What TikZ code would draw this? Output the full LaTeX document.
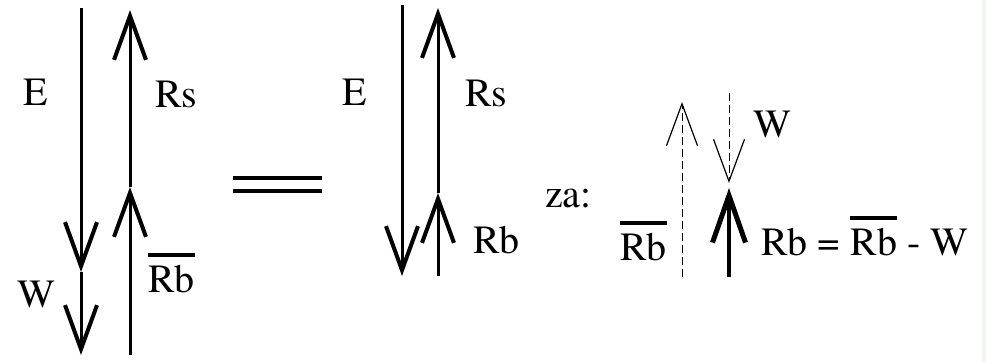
\documentclass[tikz,border=0pt]{standalone}
\usepackage{fontspec}
\setmainfont{texgyretermes}[Extension=.otf, UprightFont=*-regular, BoldFont=*-bold]
\usepackage{xcolor}
\usetikzlibrary{arrows.meta}
\definecolor{stripgreen}{RGB}{238,248,238}
\newcommand{\barred}[1]{\vbox{\hrule height 4pt\kern 8pt\hbox{#1}}}

\begin{document}
\begin{tikzpicture}[
  x=1pt, y=-1pt,
  lbl/.style={anchor=base west, inner sep=0pt, font=\fontsize{40}{40}\selectfont},
  vec/.style={line width=3pt, -{Straight Barb[length=44pt, width=32pt, line width=4pt]}},
  thinvec/.style={line width=1pt, dash pattern=on 8pt off 4pt,
                  -{Straight Barb[length=42pt, width=31pt, line width=1.2pt]}},
  boldvec/.style={line width=4pt, -{Straight Barb[length=47pt, width=33pt, line width=5pt]}},
]
\useasboundingbox (0,0) rectangle (986,362);
\fill[stripgreen] (982,0) rectangle (986,362);

% left: E + W and Rb + Rs
\coordinate (Etop)  at (81,8);
\coordinate (Ejoin) at (81,272);
\coordinate (Wend)  at (81,355);
\coordinate (Rbase) at (130,355);
\coordinate (Rjoin) at (130,187);
\coordinate (Rstop) at (130,10);
\draw[vec] (Etop) -- (Ejoin);
\draw[vec] (Ejoin) -- (Wend);
\draw[vec] (Rbase) -- (Rjoin);
\draw[vec] (Rjoin) -- (Rstop);
\node[lbl] (lE)  at (23,105)  {E};
\node[lbl] (lRs) at (155,107) {Rs};
\node[lbl] (lW)  at (17,307)  {W};
\node[lbl] (lRb) at (148,292) {\barred{Rb}};

% equals
\draw[line width=4pt] (233,178) -- (322,178);
\draw[line width=4pt] (233,191) -- (322,191);

% middle: E and Rb + Rs
\coordinate (mEtop)  at (402,5);
\coordinate (mEend)  at (402,276);
\coordinate (mRbase) at (438,276);
\coordinate (mRjoin) at (438,193);
\coordinate (mRtop)  at (438,8);
\draw[vec] (mEtop) -- (mEend);
\draw[vec] (mRbase) -- (mRjoin);
\draw[vec] (mRjoin) -- (mRtop);
\node[lbl] (mE)  at (342,105) {E};
\node[lbl] (mRs) at (465,106) {Rs};
\node[lbl] (mRb) at (473,253) {Rb};

% right: za
\node[lbl] (za) at (545,207) {za:};
\coordinate (dRbase) at (682,277);
\coordinate (dRtop)  at (682,102);
\coordinate (dWtop)  at (729,93);
\coordinate (dWend)  at (729,183);
\coordinate (Rbbase) at (729,277);
\coordinate (Rbtip)  at (729,188);
\draw[thinvec] (dRbase) -- (dRtop);
\draw[thinvec] (dWtop) -- (dWend);
\draw[boldvec] (Rbbase) -- (Rbtip);
\node[lbl] (rRb) at (620,260) {\barred{Rb}};
\node[lbl] (rW)  at (753,137) {W};
\node[lbl] (eq)  at (761,255) {Rb = \barred{Rb} - W};
\end{tikzpicture}
\end{document}
